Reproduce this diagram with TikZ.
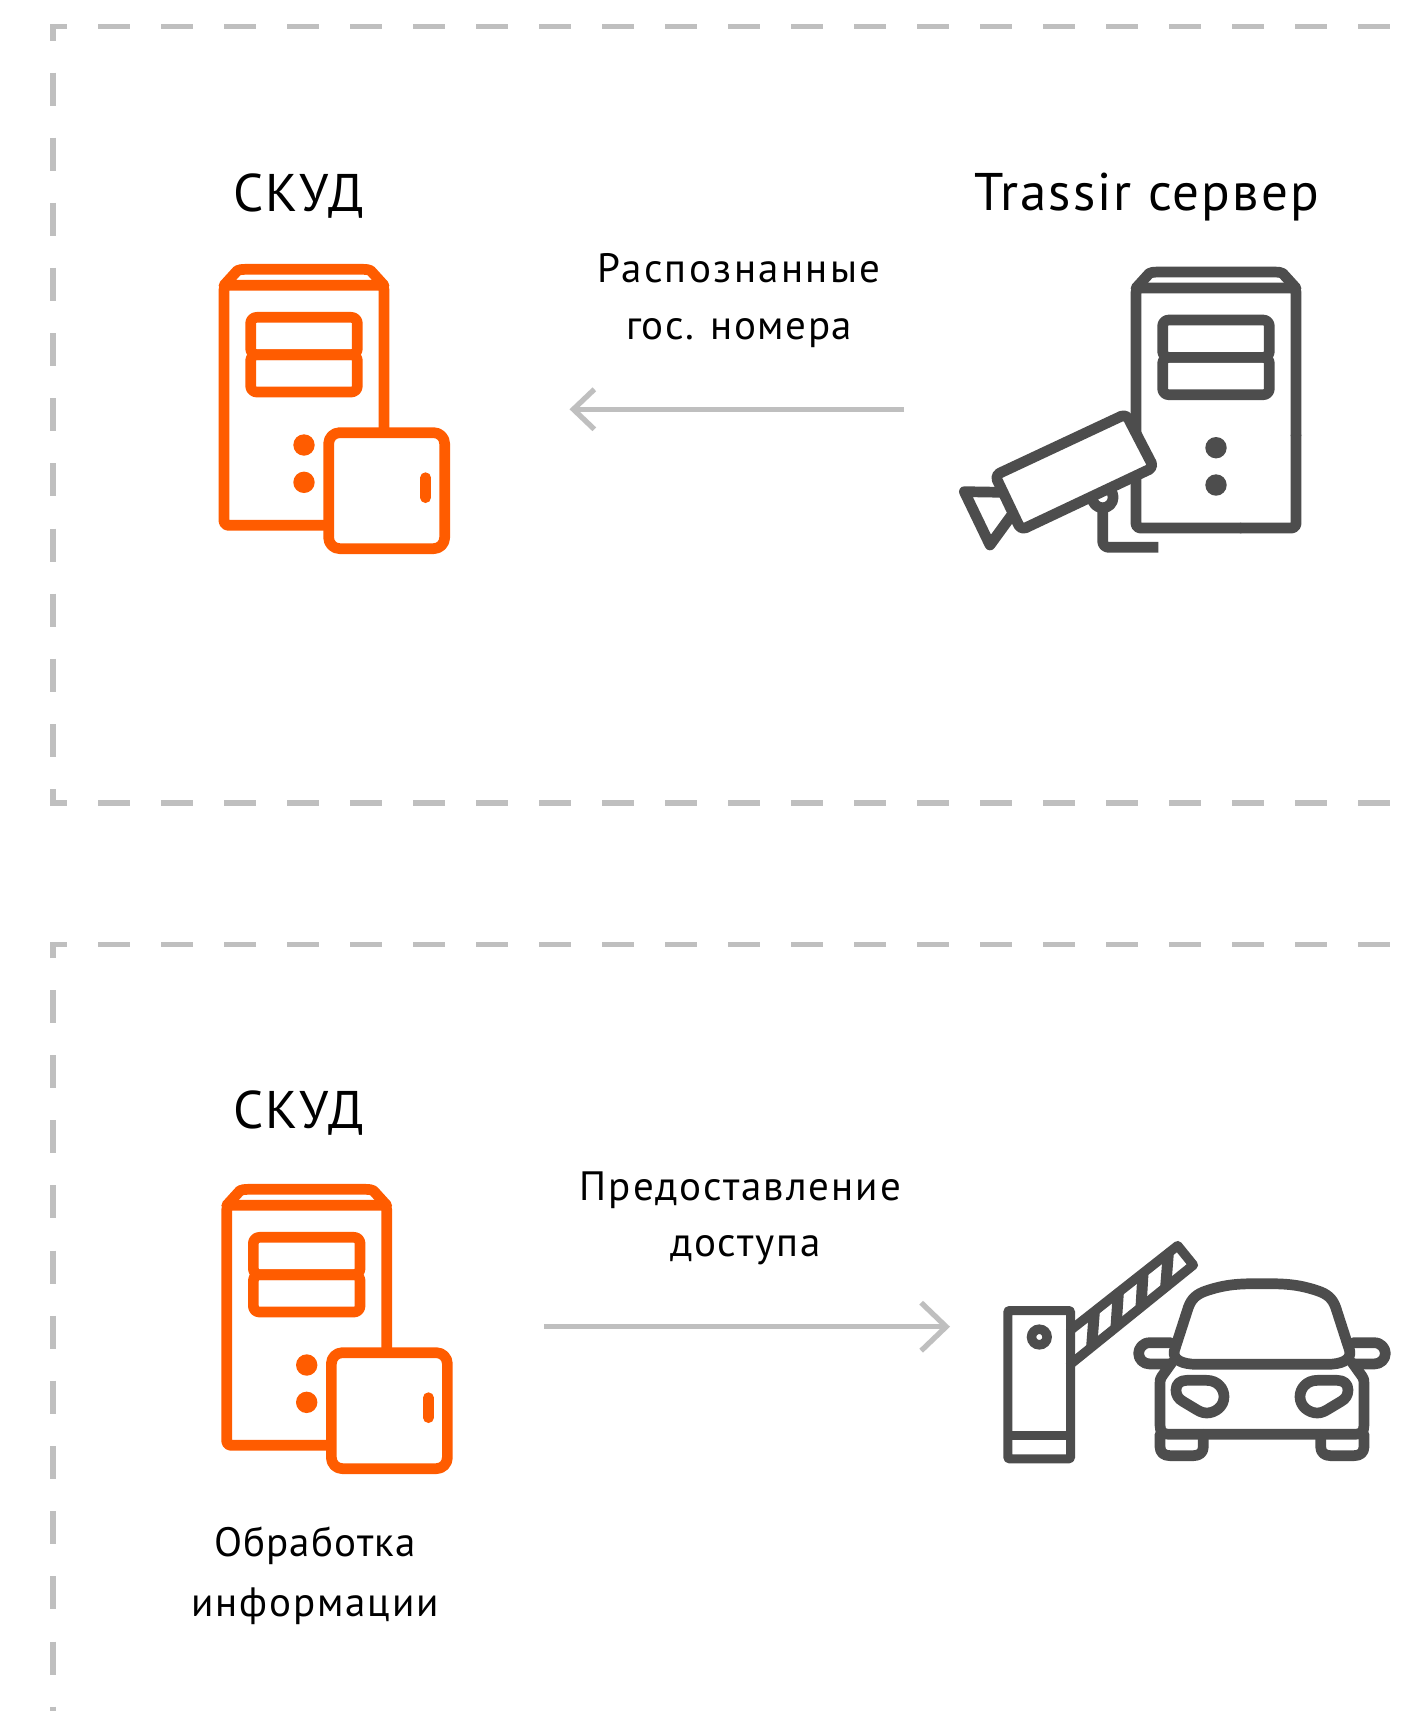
\documentclass[tikz,border=0pt]{standalone}
\usepackage{fontspec}
\setmainfont{PT Sans}
\usetikzlibrary{arrows.meta}
\definecolor{orangeic}{HTML}{FF5C00}
\definecolor{greyic}{HTML}{4D4D4D}
\definecolor{dashc}{HTML}{BFBFBF}
\tikzset{
  ln/.style={line width=10.7pt,line join=round,line cap=round},
  frameline/.style={dashc,line width=5.5pt},
  framedash/.style={frameline,dash pattern=on 32pt off 31pt},
  framedashv/.style={frameline,dash pattern=on 33pt off 32.15pt},
  conn/.style={dashc,line width=5.3pt},
  connA/.style={conn,-{Straight Barb[length=21pt,width=40pt,line width=5.3pt]}},
  connB/.style={conn,-{Straight Barb[length=25pt,width=48pt,line width=5.3pt]}},
  big/.style={anchor=base,black,inner sep=0pt,font=\fontsize{53}{60}\selectfont},
  small/.style={anchor=base,black,inner sep=0pt,font=\fontsize{41}{50}\selectfont},
  zoomed/.style={x=0.33333pt,y=-0.33333pt},
}
\newcommand{\ls}[1]{\addfontfeature{LetterSpace=#1}}
\newcommand{\srvicon}[3]{%
  \begin{scope}[shift={(#1,#2)},zoomed,#3]
    \draw[ln,rounded corners=4pt] (386,856) -- (72,856) -- (72,136) -- (552,136) -- (552,578);
    \draw[ln] (72,136) -- (112,92) .. controls (118,89) and (125,88) .. (135,88) -- (490,88)
       .. controls (500,88) and (506,89) .. (512,92) -- (552,136);
    \draw[ln,rounded corners=6pt] (152,344) rectangle (472,232);
    \draw[ln,rounded corners=6pt] (152,456) rectangle (472,344);
    \fill (312,615) circle[radius=10.7pt];
    \fill (312,727) circle[radius=10.7pt];
  \end{scope}}
\begin{document}
\begin{tikzpicture}[x=1pt,y=-1pt]
\useasboundingbox (0,0) rectangle (1404,1711);
\fill[white] (0,0) rectangle (1404,1711);
% frames
\draw[frameline] (52.8,40.5) -- (52.8,26.7) -- (67,26.7);
\draw[framedash] (98,26.7) -- (1404,26.7);
\draw[framedashv] (52.8,72.5) -- (52.8,757);
\draw[frameline] (52.8,789) -- (52.8,803) -- (67,803);
\draw[framedash] (98,803) -- (1404,803);
\draw[frameline] (52.8,958) -- (52.8,944.5) -- (67,944.5);
\draw[framedash] (98,944.5) -- (1404,944.5);
\draw[framedashv] (52.8,990) -- (52.8,1711);
% orange icon 1
\srvicon{200}{240}{draw=orangeic,orangeic}
\begin{scope}[shift={(200,240)},zoomed,draw=orangeic]
  \draw[ln,fill=white,rounded corners=11pt] (386,578) rectangle (734,926);
  \draw[ln] (677,713) -- (677,773);
\end{scope}
% orange icon 2
\srvicon{202.7}{1160}{draw=orangeic,orangeic}
\begin{scope}[shift={(202.7,1160)},zoomed,draw=orangeic]
  \draw[ln,fill=white,rounded corners=11pt] (386,578) rectangle (734,926);
  \draw[ln] (677,713) -- (677,773);
\end{scope}
% grey server + camera
\srvicon{1112}{242.7}{draw=greyic,greyic}
\begin{scope}[shift={(1112,242.7)},zoomed,draw=greyic]
  \draw[ln,rounded corners=4pt] (552,578) -- (552,856) -- (386,856);
\end{scope}
\begin{scope}[shift={(940,240)},zoomed,draw=greyic]
  \draw[ln,line cap=butt,rounded corners=6pt] (488,815) -- (488,922) -- (655,922);
  \draw[ln] (488,772) circle[radius=10.5pt];
  \draw[ln] (190,757) -- (73,755) -- (150,915) -- (230,805);
  \draw[ln,fill=white,rounded corners=5pt] (558,522) -- (641,682) -- (243,870) -- (165,706) -- cycle;
\end{scope}
% barrier and car
\begin{scope}[shift={(980,1220)},zoomed,draw=greyic]
  \draw[ln,line width=9.5pt] (272,330) -- (593,77) -- (640,135) -- (272,432);
  \foreach \a/\b/\c/\d in {343/275/335/380,415/218/408/322,489/160/483/262,565/99/557/202}
    \draw[line width=11pt] (\a,\b) -- (\c,\d);
  \draw[ln,line width=9pt,rounded corners=1pt] (83.5,271.5) rectangle (271.5,716.5);
  \draw[line width=9pt] (83.5,646.5) -- (271.5,646.5);
  \draw[line width=9.5pt] (178,351) circle[radius=7.8pt];
  % car
  \draw[ln] (583,392) -- (625,262) .. controls (635,235) and (650,222) .. (680,212)
     .. controls (740,192) and (780,191) .. (846,191) .. controls (912,191) and (952,192) .. (1012,212)
     .. controls (1042,222) and (1057,235) .. (1067,262) -- (1109,392)
     .. controls (1115,420) and (1085,433) .. (1040,433) -- (652,433)
     .. controls (607,433) and (577,420) .. (583,392) -- cycle;
  \draw[ln] (575,428) -- (545,470) .. controls (541,476) and (540,480) .. (540,490) -- (540,615)
     .. controls (540,635) and (548,643) .. (568,643) -- (1124,643)
     .. controls (1144,643) and (1152,635) .. (1152,615) -- (1152,490)
     .. controls (1152,480) and (1151,476) .. (1147,470) -- (1117,428);
  \draw[ln] (540,643) -- (540,680) .. controls (540,698) and (552,707) .. (570,707) -- (640,707)
     .. controls (658,707) and (670,698) .. (670,680) -- (670,643);
  \draw[ln] (1152,643) -- (1152,680) .. controls (1152,698) and (1140,707) .. (1122,707) -- (1052,707)
     .. controls (1034,707) and (1022,698) .. (1022,680) -- (1022,643);
  \draw[ln] (572,368) -- (510,368) .. controls (488,368) and (476,385) .. (476,400)
     .. controls (476,418) and (490,432) .. (510,432) -- (565,432);
  \draw[ln] (1120,368) -- (1182,368) .. controls (1204,368) and (1216,385) .. (1216,400)
     .. controls (1216,418) and (1202,432) .. (1182,432) -- (1127,432);
  \draw[ln] (620,481) -- (680,481) .. controls (712,481) and (732,505) .. (732,530)
     .. controls (732,560) and (705,579) .. (680,579) .. controls (665,579) and (655,572) .. (640,563)
     -- (610,545) .. controls (595,537) and (588,525) .. (588,510)
     .. controls (588,492) and (600,481) .. (620,481) -- cycle;
  \draw[ln] (1072,481) -- (1012,481) .. controls (980,481) and (960,505) .. (960,530)
     .. controls (960,560) and (987,579) .. (1012,579) .. controls (1027,579) and (1037,572) .. (1052,563)
     -- (1082,545) .. controls (1097,537) and (1104,525) .. (1104,510)
     .. controls (1104,492) and (1092,481) .. (1072,481) -- cycle;
\end{scope}
% connectors
\coordinate (arrAstart) at (904,409.3);
\coordinate (arrAend) at (569.5,409.3);
\coordinate (arrBstart) at (544,1326.7);
\coordinate (arrBend) at (950,1326.7);
\draw[connA] (arrAstart) -- (arrAend);
\draw[connB] (arrBstart) -- (arrBend);
% text
\node[big] (tA) at (298.5,211.5) {\ls{3.4}СКУД};
\node[big] (tB) at (298.5,1128.3) {\ls{3.4}СКУД};
\node[big] (tC) at (1146.5,210.7) {\ls{4}Trassir сервер};
\node[small] (tD) at (739,282.7) {\ls{5.8}Распознанные};
\node[small] (tE) at (739,339) {\ls{3.6}гос. номера};
\node[small] (tF) at (740.5,1200) {\ls{4.9}Предоставление};
\node[small] (tG) at (745.5,1256) {\ls{4.4}доступа};
\node[small] (tH) at (315,1556) {\ls{3}Обработка};
\node[small] (tI) at (315,1616) {\ls{4.7}информации};
\end{tikzpicture}
\end{document}
